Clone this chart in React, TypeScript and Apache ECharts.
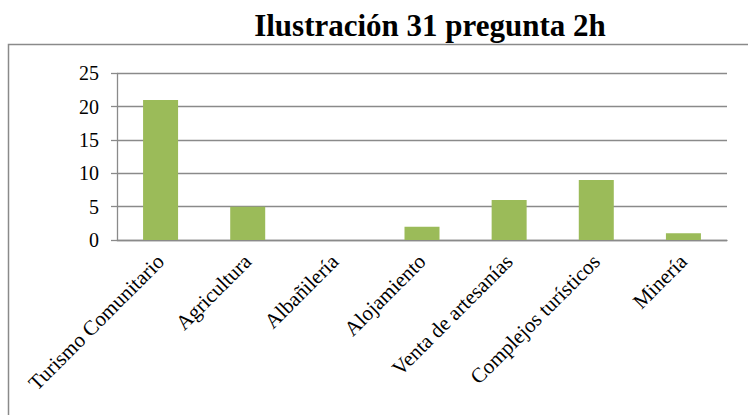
import React, { useEffect, useRef } from "react";
import * as echarts from "echarts";

const categories = [
  "Turismo Comunitario",
  "Agricultura",
  "Albañilería",
  "Alojamiento",
  "Venta de artesanías",
  "Complejos turísticos",
  "Minería",
];
const values = [21, 5, 0, 2, 6, 9, 1];
const titleText = "Ilustración 31 pregunta 2h";

export default function App() {
  const ref = useRef<HTMLDivElement>(null);
  useEffect(() => {
    if (!ref.current) return;
    const chart = echarts.init(ref.current, undefined, { renderer: "svg" });
    const serif = "Liberation Serif";
    chart.setOption({
      animation: false,
      backgroundColor: "#ffffff",
      textStyle: { fontFamily: serif },
      title: {
        text: titleText,
        left: 430,
        top: 10,
        textAlign: "center",
        padding: 0,
        textStyle: { fontFamily: serif, fontSize: 31, fontWeight: "bold", color: "#000" },
      },
      graphic: [
        {
          type: "rect",
          shape: { x: 8.5, y: 44.5, width: 800, height: 450 },
          style: { fill: "none", stroke: "#8a8a8a", lineWidth: 1.5 },
          silent: true,
          z: -1,
        },
      ],
      grid: { left: 117, right: 21, top: 73.3, bottom: 175, containLabel: false },
      xAxis: {
        type: "category",
        data: categories,
        axisLine: { lineStyle: { color: "#8a8a8a", width: 1.3 } },
        axisTick: { length: 6, lineStyle: { color: "#8a8a8a", width: 1.3 } },
        axisLabel: {
          rotate: 45,
          interval: 0,
          margin: 18,
          fontFamily: serif,
          fontSize: 21,
          color: "#000",
        },
      },
      yAxis: {
        type: "value",
        min: 0,
        max: 25,
        interval: 5,
        axisLine: { show: true, lineStyle: { color: "#8a8a8a", width: 1.3 } },
        axisTick: { show: true, length: 6, lineStyle: { color: "#8a8a8a", width: 1.3 } },
        splitLine: { lineStyle: { color: "#8a8a8a", width: 1.3 } },
        axisLabel: { margin: 18, fontFamily: serif, fontSize: 20, color: "#000" },
      },
      series: [
        {
          type: "bar",
          data: values,
          barWidth: 35,
          itemStyle: { color: "#9BBB59" },
        },
      ],
    });
    return () => chart.dispose();
  }, []);
  return (
    <div
      ref={ref}
      style={{ position: "fixed", left: 0, top: 0, width: 748, height: 415 }}
    />
  );
}
